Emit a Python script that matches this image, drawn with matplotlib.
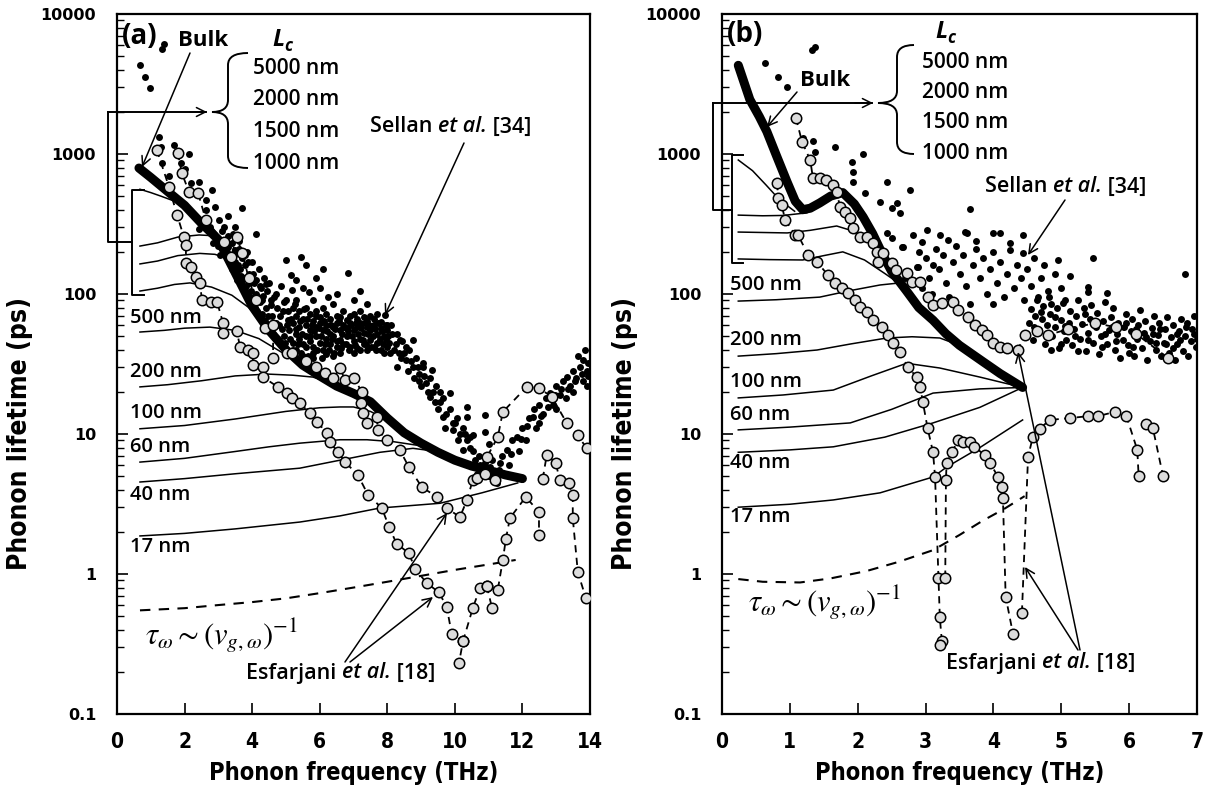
import matplotlib
matplotlib.use('Agg')
import matplotlib.pyplot as plt
from matplotlib.path import Path
from matplotlib.patches import PathPatch, FancyArrowPatch
from matplotlib.ticker import LogLocator, NullFormatter
from matplotlib import font_manager as fm

# ---------------- panel (a) data ----------------
bulk_a = [(0.65, 794), (1.0, 680), (1.5, 540), (2.0, 430), (2.5, 320), (3.0, 245), (3.5, 142),
          (4.0, 82), (4.5, 55), (5.0, 40), (5.5, 31), (6.0, 26), (6.5, 22), (7.0, 19.5), (7.5, 17),
          (8.0, 13), (8.5, 10.2), (9.0, 8.6), (9.5, 7.4), (10.0, 6.5), (10.5, 5.9), (11.0, 5.5),
          (11.5, 5.1), (12.0, 4.8)]

lc_a_5000 = [(0.68, 560), (1.0, 530), (1.3, 500), (1.6, 470), (1.9, 440), (2.1, 410)]
lc_a_2000 = [(0.68, 220), (1.2, 232), (1.8, 255), (2.43, 264), (2.7, 262), (2.95, 250)]
lc_a_1500 = [(0.68, 164), (1.2, 172), (1.8, 188), (2.45, 195), (2.9, 192), (3.3, 178)]
lc_a_1000 = [(0.68, 105), (1.2, 110), (1.7, 117), (2.16, 120), (2.8, 112), (3.4, 98), (3.9, 80), (4.32, 62)]
lc_a_500 = [(0.68, 53.5), (1.4, 55), (2.0, 57), (2.75, 58), (3.5, 55), (4.2, 48), (4.9, 38), (5.6, 30), (6.21, 25.5)]
lc_a_200 = [(0.68, 21.7), (1.5, 22.5), (2.5, 24), (3.5, 26), (4.44, 26.8), (5.2, 26.3), (5.8, 25.5), (6.6, 22), (7.4, 18)]
lc_a_100 = [(0.68, 10.9), (2.0, 11.5), (3.5, 12.8), (5.0, 14.5), (6.0, 15.4), (6.6, 15.6), (7.0, 15.6), (7.5, 14.5), (8.0, 12.6)]
lc_a_60 = [(0.68, 6.3), (2.0, 6.7), (3.5, 7.5), (4.5, 8.1), (5.41, 8.6), (6.6, 9.1), (7.4, 9.1), (8.2, 8.8), (8.9, 8.3)]
lc_a_40 = [(0.68, 4.54), (2.0, 4.8), (3.5, 5.2), (5.41, 5.7), (6.6, 6.5), (7.78, 7.4), (8.76, 7.9), (9.3, 7.6)]
lc_a_17 = [(0.68, 1.87), (2.0, 1.95), (3.5, 2.1), (5.41, 2.35), (6.6, 2.6), (7.78, 2.96), (9.56, 3.2), (10.8, 3.8), (11.86, 4.47)]

vg_a = [(0.68, 0.55), (2.0, 0.57), (3.0, 0.6), (4.0, 0.63), (5.0, 0.67), (6.0, 0.73), (7.0, 0.8),
        (8.0, 0.88), (9.0, 0.97), (10.0, 1.07), (11.0, 1.17), (11.8, 1.26)]

esf_a_low = [(1.18, 1068), (1.54, 580), (1.78, 366), (1.98, 255), (2.04, 224), (2.04, 166), (2.19, 156),
             (2.34, 132), (2.46, 120), (2.51, 91), (2.78, 88), (2.96, 88), (3.14, 62), (3.14, 53),
             (3.55, 54), (3.64, 42), (3.88, 40), (4.02, 38), (4.02, 31), (4.32, 30), (4.32, 25.5),
             (4.76, 21.7), (5.03, 19.6), (5.18, 18.1), (5.41, 16.6), (5.71, 14.1), (5.92, 12.2),
             (6.21, 10.2), (6.30, 8.8), (6.54, 7.4), (6.75, 6.3), (7.13, 5.1), (7.43, 3.67),
             (7.84, 2.96), (8.05, 2.17), (8.28, 1.64), (8.64, 1.41), (8.82, 1.09), (9.17, 0.86),
             (9.53, 0.74), (9.76, 0.58), (9.91, 0.37), (10.24, 0.33), (10.12, 0.23)]
esf_a_up = [(1.80, 1017), (1.92, 731), (2.13, 535), (2.40, 526), (2.63, 338), (3.17, 235), (3.37, 184),
            (3.55, 255), (3.70, 196), (3.90, 130), (4.10, 90), (4.38, 57), (4.62, 60), (4.62, 35),
            (5.03, 38), (5.18, 38), (5.6, 33), (5.9, 30), (6.15, 27.3), (6.39, 25), (6.60, 29.6),
            (6.75, 24.3), (7.01, 25), (7.25, 20), (7.22, 16.6), (7.28, 14.1), (7.40, 12), (7.69, 13.2),
            (7.72, 10.7), (7.99, 9.06), (8.37, 7.7), (8.64, 5.8), (9.02, 4.18), (9.47, 3.55),
            (9.76, 2.96), (10.15, 2.55), (10.36, 3.38), (10.53, 4.69), (10.95, 6.85), (11.27, 9.5),
            (11.42, 14.4), (12.13, 21.7), (12.49, 21.3), (12.87, 18.4), (13.31, 12), (13.64, 9.8),
            (13.90, 7.9)]
esf_a_c1 = [(10.24, 0.33), (10.53, 0.57), (10.74, 0.79), (10.95, 0.82), (11.27, 0.77), (11.42, 1.26),
            (11.51, 1.78), (11.63, 2.51), (12.10, 3.55), (12.49, 2.77), (12.49, 1.90)]
esf_a_c2 = [(10.95, 0.82), (11.10, 0.57)]
esf_a_c3 = [(12.60, 4.77), (12.72, 7.08), (12.99, 6.2), (13.10, 4.7), (13.37, 4.47), (13.49, 3.67),
            (13.49, 2.51), (13.64, 1.03), (13.88, 0.67)]
esf_a_misc = [(10.65, 4.85), (11.18, 4.7), (10.9, 5.2)]

sellan_a = [
    # sparse, low frequency
    (0.68, 4300), (0.83, 3550), (0.98, 2950), (1.33, 5600), (1.40, 6100),
    (1.24, 1320), (1.30, 1120), (1.69, 1160), (2.13, 1000), (1.33, 860), (1.89, 860), (1.55, 700),
    (2.00, 780), (2.43, 630), (2.20, 620), (2.81, 550), (2.63, 470), (2.63, 400), (2.90, 420),
    (3.30, 360), (3.70, 410), (3.02, 340), (2.43, 290), (3.50, 300), (4.11, 270),
    # cloud above bulk, 2.7-4.5 THz
    (2.75, 300), (2.90, 260), (3.00, 220), (3.10, 280), (3.20, 240), (3.05, 190), (3.25, 200),
    (2.85, 230), (3.30, 260), (3.40, 230), (3.45, 190), (3.50, 170), (3.60, 210), (3.65, 150),
    (3.70, 180), (3.75, 130), (3.40, 150), (3.55, 125), (3.80, 160), (3.85, 200), (3.90, 140),
    (4.00, 170), (4.05, 120), (4.10, 100), (4.20, 150), (4.25, 110), (4.30, 90), (4.35, 130),
    (4.40, 80), (4.45, 105), (3.95, 95), (4.15, 75), (3.12, 230), (3.18, 300), (3.28, 215),
    (3.36, 180), (3.42, 270), (3.48, 205), (3.58, 160), (3.62, 240), (3.68, 135), (3.78, 190),
    (3.82, 115), (3.88, 170), (3.92, 120), (3.98, 105), (4.02, 140), (4.08, 88), (4.12, 125),
    (4.18, 95), (4.22, 115),
    # dense band 4.2-8 THz
    (4.50, 120), (4.55, 90), (4.60, 70), (4.70, 100), (4.75, 80), (4.80, 60), (4.85, 115),
    (4.90, 75), (5.00, 90), (5.05, 65), (5.10, 55), (5.15, 137), (5.18, 107), (5.00, 175),
    (4.95, 50), (5.20, 80), (4.22, 88), (4.28, 72), (4.33, 96), (4.38, 64), (4.42, 118),
    (4.47, 70), (4.52, 58), (4.57, 84), (4.63, 52), (4.66, 95), (4.72, 62), (4.78, 48), (4.83, 70),
    (4.88, 56), (4.93, 88), (4.98, 45), (5.03, 60), (5.07, 76), (5.12, 48), (5.16, 66), (5.22, 40),
    (5.26, 85), (5.31, 56), (5.36, 44), (5.41, 64), (5.44, 38), (5.49, 52), (5.53, 78), (5.58, 42),
    (5.62, 66), (5.66, 36), (5.71, 50), (5.76, 60), (5.79, 38), (5.84, 54), (5.88, 70), (5.93, 40),
    (5.97, 57), (6.03, 50), (6.07, 35), (6.12, 64), (6.16, 44), (6.22, 54), (6.27, 40), (6.32, 60),
    (6.36, 48), (6.42, 38), (6.46, 56), (6.52, 46), (6.57, 64), (6.62, 41), (6.66, 52), (6.72, 58),
    (6.77, 44), (6.83, 54), (6.87, 40), (6.92, 60), (6.97, 50), (7.03, 43), (7.07, 62), (7.13, 52),
    (7.18, 40), (7.22, 57), (7.27, 47), (7.33, 62), (7.38, 44), (7.42, 52), (7.47, 60), (7.53, 42),
    (7.57, 50), (7.63, 56), (7.67, 40), (7.73, 62), (7.78, 48), (7.83, 54), (7.88, 44), (7.95, 60),
    (7.97, 48), (8.02, 50), (8.08, 38),
    (5.2, 45), (5.2, 62), (5.3, 52), (5.3, 70), (5.3, 90), (5.4, 48), (5.4, 58), (5.4, 75),
    (5.5, 44), (5.5, 66), (5.5, 110), (5.6, 50), (5.6, 60), (5.6, 80), (5.7, 46), (5.7, 55),
    (5.7, 72), (5.8, 42), (5.8, 64), (5.8, 90), (5.9, 50), (5.9, 58), (5.9, 75), (6.0, 45),
    (6.0, 62), (6.0, 68), (6.1, 40), (6.1, 55), (6.1, 80), (6.2, 48), (6.2, 60), (6.2, 72),
    (6.3, 44), (6.3, 52), (6.3, 66), (6.4, 50), (6.4, 58), (6.4, 85), (6.5, 42), (6.5, 62),
    (6.5, 70), (6.6, 47), (6.6, 55), (6.6, 68), (6.7, 44), (6.7, 60), (6.7, 75), (6.8, 50),
    (6.8, 57), (6.8, 65), (6.9, 42), (6.9, 62), (6.9, 70), (7.0, 46), (7.0, 55), (7.0, 72),
    (7.1, 41), (7.1, 58), (7.1, 66), (7.2, 48), (7.2, 62), (7.2, 75), (7.3, 44), (7.3, 53),
    (7.3, 68), (7.4, 40), (7.4, 58), (7.4, 64), (7.5, 47), (7.5, 55), (7.5, 70), (7.6, 42),
    (7.6, 60), (7.6, 66), (7.7, 45), (7.7, 52), (7.7, 72), (7.8, 40), (7.8, 57), (7.8, 63),
    (7.9, 38), (7.9, 50), (7.93, 71), (8.0, 42), (8.0, 55), (8.0, 60),
    (5.45, 184), (5.68, 103), (6.83, 141), (5.30, 125), (6.25, 95), (6.0, 110), (7.0, 90),
    (5.9, 130), (6.5, 100), (7.4, 85), (6.1, 150), (5.6, 160), (7.2, 105),
    (5.5, 36), (5.8, 35), (6.2, 37), (6.6, 38), (7.0, 38), (5.3, 40), (6.4, 36),
    # descending branch 8-10.6 THz
    (8.05, 45), (8.1, 60), (8.2, 40), (8.28, 30), (8.37, 47), (8.4, 35), (8.5, 38), (8.6, 28),
    (8.7, 33), (8.76, 47), (8.8, 25), (8.9, 30), (9.0, 22), (9.1, 26), (9.2, 20), (9.26, 18.3),
    (9.32, 28.6), (9.4, 17), (9.5, 15), (9.55, 20), (9.64, 13.2), (9.7, 11), (9.85, 19.7),
    (9.94, 10.7), (10.0, 12), (10.1, 9), (10.24, 7.7), (10.3, 10), (10.36, 15.6), (10.36, 13.2),
    (10.45, 8), (10.53, 9.8), (10.6, 6.5), (8.3, 52), (8.55, 42), (9.05, 32), (8.95, 24),
    (8.15, 52), (8.25, 44), (8.35, 38), (8.45, 46), (8.55, 34), (8.65, 40), (8.75, 30), (8.85, 35),
    (8.95, 27), (9.05, 30), (9.15, 23), (9.25, 25), (9.35, 20), (9.45, 22), (9.55, 17), (9.65, 18),
    (9.75, 14), (9.85, 15), (9.95, 12), (10.05, 13), (10.15, 10), (10.25, 11), (10.35, 9),
    (10.45, 9.5), (10.55, 7.5),
    # minimum near 11 THz
    (10.7, 7), (10.8, 5.5), (10.89, 13.7), (10.89, 10.3), (10.9, 6.2), (11.0, 5), (11.1, 6.5),
    (11.2, 4.7), (11.3, 5.5), (11.4, 7), (11.0, 8.5), (11.25, 4.5), (10.75, 6), (11.05, 5.8),
    (11.35, 6.2), (10.65, 5.2),
    # rising branch 11.5-14 THz
    (11.54, 7.7), (11.6, 6), (11.7, 9), (11.83, 9.5), (11.9, 7.5), (12.0, 11), (12.1, 9),
    (12.2, 13), (12.31, 13.2), (12.4, 11), (12.5, 16), (12.6, 14), (12.7, 18), (12.81, 19.7),
    (12.9, 16), (13.0, 22), (13.1, 19), (13.2, 24), (13.31, 25.5), (13.4, 22), (13.5, 28),
    (13.6, 25), (13.7, 30), (13.79, 33.8), (13.85, 39.8), (13.9, 28), (13.95, 32), (13.5, 20),
    (13.0, 15), (12.5, 12), (13.8, 24), (13.3, 18), (13.65, 36), (13.9, 22), (11.65, 7.2),
    (11.95, 9.2), (12.15, 11.5), (12.35, 15), (12.55, 13.5), (12.75, 15.5), (12.95, 19),
    (13.15, 21), (13.35, 21), (13.55, 24), (13.75, 27), (13.95, 26)]

# ---------------- panel (b) data ----------------
bulk_b = [(0.24, 4300), (0.41, 2450), (0.55, 1850), (0.66, 1450), (0.8, 980), (0.96, 630), (1.08, 460),
          (1.19, 400), (1.3, 410), (1.44, 447), (1.6, 500), (1.78, 530), (1.95, 440), (2.08, 355),
          (2.22, 270), (2.37, 190), (2.5, 145), (2.72, 105), (2.9, 80), (3.11, 65), (3.3, 52),
          (3.5, 43), (3.84, 33), (4.1, 27), (4.43, 21.5)]

lc_b_5000 = [(0.24, 906), (0.45, 760), (0.65, 600), (0.85, 470), (1.07, 390)]
lc_b_2000 = [(0.24, 366), (0.6, 362), (0.9, 364), (1.25, 380)]
lc_b_1500 = [(0.24, 277), (0.6, 275), (0.96, 273), (1.3, 285), (1.69, 306), (1.95, 280), (2.28, 225)]
lc_b_1000 = [(0.24, 178), (0.7, 176), (1.19, 175), (1.5, 188), (1.78, 200), (2.1, 175), (2.4, 140), (2.62, 118)]
lc_b_500 = [(0.24, 89), (0.8, 91), (1.44, 95), (1.9, 106), (2.33, 116), (2.62, 120)]
lc_b_200 = [(0.24, 36), (0.8, 37.5), (1.4, 39.8), (1.9, 44), (2.43, 48.5), (2.8, 49.5), (3.21, 48.5), (3.5, 43)]
lc_b_100 = [(0.24, 18.1), (0.9, 19), (1.64, 20.6), (2.2, 26), (2.72, 32), (3.21, 29.6), (3.8, 25.5), (4.43, 21.5)]
lc_b_60 = [(0.24, 10.7), (1.0, 11.2), (1.89, 12), (2.5, 15), (3.11, 19.6), (3.8, 21), (4.43, 21.5)]
lc_b_40 = [(0.24, 7.4), (1.0, 7.7), (1.64, 8.1), (2.4, 9.5), (3.11, 12), (3.8, 15.5), (4.43, 21.5)]
lc_b_17 = [(0.24, 3.0), (1.0, 3.15), (1.64, 3.38), (2.33, 3.8), (3.11, 4.93), (3.31, 5.8), (3.8, 8), (4.43, 12.6)]

vg_b = [(0.24, 0.92), (0.6, 0.88), (1.15, 0.87), (1.6, 0.93), (2.13, 1.05), (2.6, 1.22), (3.11, 1.48),
        (3.5, 1.9), (3.84, 2.4), (4.15, 2.9), (4.46, 3.6)]

esf_b_up = [(1.09, 1808), (1.18, 1218), (1.30, 906), (1.34, 674), (1.44, 674), (1.53, 652), (1.64, 601),
            (1.69, 535), (1.74, 418), (1.81, 385), (1.89, 349), (1.93, 296), (2.03, 255), (2.13, 255),
            (2.22, 231), (2.28, 200), (2.37, 196), (2.30, 169), (2.50, 166), (2.57, 148), (2.72, 141),
            (2.80, 122), (2.92, 122), (3.04, 95), (3.11, 84), (3.24, 86), (3.40, 88), (3.48, 77),
            (3.62, 68), (3.73, 60), (3.83, 55), (3.90, 51), (4.00, 44.7), (4.09, 42), (4.20, 41),
            (4.36, 39.8), (4.46, 51), (4.64, 54), (4.80, 51), (5.10, 56), (5.49, 62), (5.80, 58),
            (6.10, 52), (6.57, 35)]
esf_b_low = [(0.81, 620), (0.83, 485), (0.88, 433), (0.93, 338), (1.08, 264), (1.12, 264), (1.27, 190),
             (1.40, 169), (1.56, 137), (1.66, 120), (1.77, 110), (1.86, 102), (1.96, 91), (2.03, 81),
             (2.14, 74), (2.23, 65), (2.36, 58), (2.45, 51), (2.52, 45), (2.62, 38.5), (2.74, 30),
             (2.87, 25.5), (2.92, 21.7), (2.96, 16.9), (3.03, 11), (3.11, 7.4), (3.14, 4.93),
             (3.19, 0.94), (3.21, 0.49), (3.24, 0.33), (3.21, 0.31)]
esf_b_arch = [(3.29, 0.94), (3.30, 4.7), (3.31, 6.2), (3.39, 7.4), (3.48, 9.06), (3.55, 8.8), (3.65, 8.8),
              (3.72, 8.1), (3.87, 7.08), (3.95, 6.2), (4.07, 4.93), (4.13, 4.18), (4.14, 3.49),
              (4.18, 0.69), (4.29, 0.37)]
esf_b_right = [(4.42, 0.53), (4.51, 6.85), (4.58, 9.5), (4.68, 10.9), (4.83, 12.6), (5.13, 13.0),
               (5.39, 13.4), (5.54, 13.4), (5.79, 14.4), (5.96, 13.4), (6.12, 7.7), (6.14, 5.0)]
esf_b_right2 = [(6.25, 11.7), (6.35, 11.0), (6.50, 5.0)]

sellan_b = [
    (0.63, 4470), (0.82, 3550), (0.96, 3010), (1.32, 5500), (1.37, 5800),
    (1.19, 1300), (1.34, 1240), (1.37, 1033), (1.66, 1115), (2.08, 1000), (1.91, 877), (1.93, 743),
    (1.93, 630), (2.43, 630), (2.77, 553), (2.10, 526), (2.33, 454), (2.58, 450), (2.50, 411),
    (2.62, 379), (3.65, 405), (2.43, 273), (2.67, 217), (3.02, 286), (3.21, 264), (3.33, 243),
    (3.61, 273), (3.99, 273), (2.87, 156), (2.50, 251), (2.81, 264), (2.95, 235), (2.65, 217),
    (2.89, 156), (3.11, 161), (3.58, 277), (4.09, 273), (4.43, 264), (4.24, 206), (4.43, 196),
    (4.95, 175), (5.46, 181), (5.13, 134), (6.83, 139), (5.39, 112), (5.39, 103), (5.67, 102),
    (2.90, 200), (3.00, 180), (3.05, 130), (3.15, 210), (3.20, 150), (3.25, 190), (3.30, 120),
    (3.40, 170), (3.45, 220), (3.50, 140), (3.55, 190), (3.60, 115), (3.70, 160), (3.75, 210),
    (3.80, 130), (3.85, 180), (3.90, 100), (3.95, 150), (4.00, 200), (4.05, 120), (4.10, 170),
    (4.15, 95), (4.20, 140), (4.25, 230), (4.30, 110), (4.35, 160), (4.40, 130), (4.45, 90),
    (4.50, 150), (4.55, 115), (4.60, 180), (4.65, 95), (4.70, 130), (4.75, 160), (4.80, 105),
    (4.85, 85), (4.90, 140), (5.00, 110), (5.05, 90), (3.10, 100), (3.35, 95), (3.65, 85),
    (2.95, 110), (3.75, 240), (2.70, 130), (4.00, 85),
    # band 4.5-7 THz
    (4.52, 62), (4.55, 78), (4.58, 47), (4.61, 70), (4.64, 90), (4.67, 55), (4.71, 66), (4.73, 82),
    (4.76, 44), (4.79, 60), (4.82, 95), (4.84, 72), (4.87, 50), (4.91, 58), (4.93, 80), (4.96, 41),
    (4.99, 65), (5.02, 86), (5.04, 54), (5.07, 47), (5.11, 62), (5.13, 76), (5.16, 43), (5.19, 56),
    (5.22, 70), (5.24, 91), (5.27, 48), (5.31, 61), (5.33, 79), (5.36, 39), (5.39, 53), (5.42, 66),
    (5.44, 84), (5.47, 45), (5.51, 58), (5.53, 73), (5.56, 37), (5.59, 50), (5.62, 64), (5.64, 88),
    (5.67, 44), (5.71, 55), (5.73, 68), (5.76, 80), (5.79, 40), (5.82, 52), (5.84, 62), (5.87, 35),
    (5.91, 47), (5.93, 58), (5.96, 72), (5.99, 43), (6.02, 54), (6.04, 66), (6.07, 36), (6.11, 48),
    (6.13, 60), (6.16, 77), (6.19, 41), (6.22, 53), (6.24, 64), (6.27, 34), (6.31, 46), (6.33, 57),
    (6.36, 70), (6.39, 40), (6.42, 51), (6.44, 62), (6.47, 36), (6.51, 45), (6.53, 56), (6.56, 68),
    (6.59, 38), (6.62, 49), (6.64, 60), (6.67, 34), (6.71, 44), (6.73, 54), (6.76, 66), (6.79, 39),
    (6.82, 50), (6.84, 58), (6.87, 36), (6.91, 46), (6.93, 56), (6.96, 70), (6.99, 42),
    (4.60, 58), (4.90, 68), (5.20, 50), (5.50, 64), (5.80, 46), (6.10, 56), (6.40, 45), (6.70, 52),
    (7.00, 48), (5.00, 44), (5.35, 72), (5.65, 52), (5.95, 62), (6.25, 49), (6.55, 44), (6.85, 62),
    (4.70, 74), (5.05, 59), (5.40, 47), (5.75, 58), (6.05, 42), (6.35, 52), (6.65, 41), (6.95, 52),
    (4.85, 40), (5.25, 39), (5.60, 42), (6.00, 38), (6.45, 56), (6.75, 47)]

# ---------------- figure ----------------
W, H = 1210, 802
BOX_A = (117, 14, 590, 714)     # left, top, right, bottom in pixels
BOX_B = (722, 14, 1197, 714)
ANN = 'Open Sans'


def narrow_bold(size):
    # a condensed bold sans similar to the original's axis labels
    pick = None
    for f in fm.fontManager.ttflist:
        nm = f.name
        stretch = str(f.stretch).lower()
        narrow = ('Narrow' in nm) or ('Condensed' in nm) or ('condensed' in stretch)
        try:
            w = int(f.weight)
        except (TypeError, ValueError):
            w = 700 if 'bold' in str(f.weight).lower() else 400
        if narrow and w >= 600 and f.style == 'normal':
            if pick is None or 'Liberation' in nm:
                pick = f.fname
    if pick:
        return fm.FontProperties(fname=pick, size=size)
    return fm.FontProperties(family='Liberation Sans', weight='bold', size=size * 0.85)


fig = plt.figure(figsize=(W / 100, H / 100), dpi=100)
renderer = fig.canvas.get_renderer()


def F(x, y):
    return (x / W, 1 - y / H)


def make_axes(box, xmax, xticks):
    l, t, r, b = box
    ax = fig.add_axes([l / W, 1 - b / H, (r - l) / W, (b - t) / H])
    ax.set_yscale('log')
    ax.set_ylim(0.1, 10000)
    ax.set_xlim(0, xmax)
    ax.set_yticks([0.1, 1, 10, 100, 1000, 10000])
    ax.set_yticklabels(['0.1', '1', '10', '100', '1000', '10000'],
                       family='DejaVu Sans', weight='bold', fontsize=11.5)
    ax.yaxis.set_minor_locator(LogLocator(base=10, subs=range(2, 10)))
    ax.yaxis.set_minor_formatter(NullFormatter())
    ax.set_xticks(xticks)
    ax.set_xticklabels([str(x) for x in xticks], fontproperties=narrow_bold(15))
    ax.tick_params(which='both', direction='in', top=False, right=False)
    ax.tick_params(which='major', length=8, width=1.2)
    ax.tick_params(which='minor', length=5, width=1.0)
    ax.tick_params(axis='x', pad=13)
    ax.tick_params(axis='y', pad=15)
    for s in ax.spines.values():
        s.set_linewidth(1.6)
    ax.set_xlabel('Phonon frequency (THz)', fontproperties=narrow_bold(17))
    ax.xaxis.set_label_coords(0.5, (b - 761) / (b - t))
    ax.set_ylabel('Phonon lifetime (ps)', fontproperties=narrow_bold(19))
    ax.yaxis.set_label_coords(-84 / (r - l), (b - 434) / (b - t))
    return ax


def xy(pairs):
    return [p[0] for p in pairs], [p[1] for p in pairs]


def draw_panel(ax, bulk, lcs, vg, esf, misc, sellan):
    for lc in lcs:
        ax.plot(*xy(lc), color='black', lw=1.1, zorder=2)
    ax.plot(*xy(vg), color='black', lw=1.5, ls=(0, (5, 4)), zorder=2)
    ax.plot(*xy(sellan), ls='none', marker='o', ms=5.0, mfc='black', mec='black', mew=0, zorder=3)
    ax.plot(*xy(bulk), color='black', lw=6.5, solid_capstyle='round', zorder=4)
    for br in esf:
        ax.plot(*xy(br), color='black', lw=1.3, ls=(0, (4, 3)), marker='o', ms=7.5,
                mfc='#dcdcdc', mec='black', mew=1.1, zorder=5)
    if misc:
        ax.plot(*xy(misc), ls='none', marker='o', ms=7.5, mfc='#dcdcdc', mec='black', mew=1.1, zorder=5)


def line(pts, lw=1.4):
    xs, ys = zip(*[F(*p) for p in pts])
    fig.add_artist(plt.Line2D(xs, ys, transform=fig.transFigure, color='black', lw=lw, zorder=10))


def arrow(start, end):
    fig.add_artist(FancyArrowPatch(
        F(*start), F(*end), transform=fig.transFigure, arrowstyle='->', mutation_scale=16,
        lw=1.1, color='black', shrinkA=0, shrinkB=0, zorder=10))


def brace(tip, xm, xe, ytop, ybot, r=12):
    tx, ty = tip
    pts = [(xe, ytop), (xm, ytop), (xm, ytop + r), (xm, ty - r), (xm, ty), (tx, ty),
           (xm, ty), (xm, ty + r), (xm, ybot - r), (xm, ybot), (xe, ybot)]
    codes = [Path.MOVETO, Path.CURVE3, Path.CURVE3, Path.LINETO, Path.CURVE3, Path.CURVE3,
             Path.CURVE3, Path.CURVE3, Path.LINETO, Path.CURVE3, Path.CURVE3]
    path = Path([F(*p) for p in pts], codes)
    fig.add_artist(PathPatch(path, transform=fig.transFigure, fill=False, lw=1.4,
                             edgecolor='black', zorder=10))


def text(x, y, s, size=15, weight='semibold', style='normal', family=ANN, ha='left'):
    return fig.text(x / W, 1 - y / H, s, fontsize=size, weight=weight, style=style,
                    family=family, ha=ha, va='center', zorder=11)


def rich(x, y, parts, size=15):
    cx = x
    for s, style in parts:
        t = text(cx, y, s, size=size, style=style)
        cx += t.get_window_extent(renderer).width


def lc_label(x, y):
    text(x, y, 'L', size=17, weight='bold', style='italic')
    text(x + 12, y + 6, 'c', size=12, weight='bold', style='italic')


ax_a = make_axes(BOX_A, 14, list(range(0, 15, 2)))
ax_b = make_axes(BOX_B, 7, list(range(0, 8)))

draw_panel(ax_a, bulk_a,
           [lc_a_5000, lc_a_2000, lc_a_1500, lc_a_1000, lc_a_500, lc_a_200, lc_a_100, lc_a_60, lc_a_40, lc_a_17],
           vg_a, [esf_a_low, esf_a_up, esf_a_c1, esf_a_c2, esf_a_c3], esf_a_misc, sellan_a)
draw_panel(ax_b, bulk_b,
           [lc_b_5000, lc_b_2000, lc_b_1500, lc_b_1000, lc_b_500, lc_b_200, lc_b_100, lc_b_60, lc_b_40, lc_b_17],
           vg_b, [esf_b_up, esf_b_low, esf_b_arch, esf_b_right, esf_b_right2], None, sellan_b)

# ---------------- annotations, panel (a) ----------------
text(122, 36, '(a)', size=20, weight='bold')
text(178, 40, 'Bulk', size=16, weight='bold')
arrow((190, 53), (142, 167))
lc_label(272, 40)
for i, s in enumerate(['5000 nm', '2000 nm', '1500 nm', '1000 nm']):
    text(253, 68 + i * 31.7, s)
brace((212, 112), 228, 248, 53, 168)
line([(108, 112), (206, 112)])
arrow((190, 112), (207, 112))
line([(108, 112), (108, 242), (132, 242)])
line([(144, 190), (132, 190), (132, 295), (144, 295)])
for s, yy in [('500 nm', 318), ('200 nm', 372), ('100 nm', 413), ('60 nm', 447), ('40 nm', 495), ('17 nm', 547)]:
    text(130, yy, s, size=14.5)
rich(370, 127, [('Sellan ', 'normal'), ('et al.', 'italic'), (' [34]', 'normal')], size=15.5)
arrow((464, 143), (385, 315))
fig.text(145 / W, 1 - 636 / H, r'$\tau_\omega \sim (v_{g,\omega})^{-1}$', fontsize=22,
         math_fontfamily='stix', va='center', ha='left')
rich(246, 673, [('Esfarjani ', 'normal'), ('et al.', 'italic'), (' [18]', 'normal')], size=15.5)
arrow((345, 662), (447, 513))
arrow((350, 662), (433, 597))

# ---------------- annotations, panel (b) ----------------
text(727, 35, '(b)', size=20, weight='bold')
text(800, 80, 'Bulk', size=16, weight='bold')
arrow((797, 92), (767, 127))
lc_label(935, 32)
for i, s in enumerate(['5000 nm', '2000 nm', '1500 nm', '1000 nm']):
    text(922, 62 + i * 30.5, s)
brace((878, 103), 897, 914, 45, 154)
line([(713, 103), (872, 103)])
arrow((855, 103), (873, 103))
line([(713, 103), (713, 210), (732, 210)])
line([(743, 155), (732, 155), (732, 263), (743, 263)])
for s, yy in [('500 nm', 285), ('200 nm', 340), ('100 nm', 382), ('60 nm', 415), ('40 nm', 463), ('17 nm', 517)]:
    text(730, yy, s, size=14.5)
rich(985, 187, [('Sellan ', 'normal'), ('et al.', 'italic'), (' [34]', 'normal')], size=15.5)
arrow((1065, 200), (1028, 255))
fig.text(748 / W, 1 - 603 / H, r'$\tau_\omega \sim (v_{g,\omega})^{-1}$', fontsize=22,
         math_fontfamily='stix', va='center', ha='left')
rich(946, 663, [('Esfarjani ', 'normal'), ('et al.', 'italic'), (' [18]', 'normal')], size=15.5)
arrow((1080, 650), (1018, 352))
arrow((1078, 650), (1025, 567))

fig.savefig('out.png', dpi=100)
